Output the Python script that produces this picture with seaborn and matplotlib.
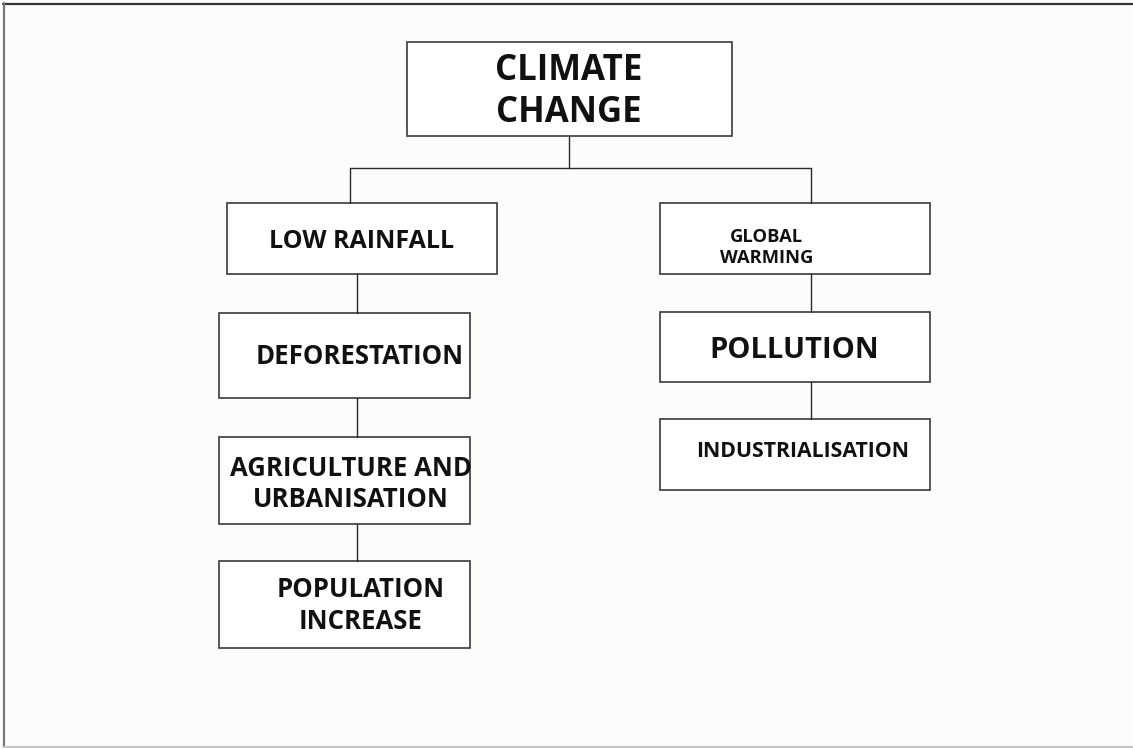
import matplotlib
matplotlib.use("Agg")
import matplotlib.pyplot as plt
from matplotlib.patches import Rectangle
import seaborn as sns

sns.set_theme(style="white")
plt.rcParams['font.family'] = ['Open Sans', 'DejaVu Sans']

# node labels
labels = ["CLIMATE\nCHANGE", "LOW RAINFALL", "GLOBAL\nWARMING", "DEFORESTATION",
          "AGRICULTURE AND\nURBANISATION", "POPULATION\nINCREASE", "POLLUTION",
          "INDUSTRIALISATION"]
# box geometry in pixel units (left, top, right, bottom)
box_left = [407, 227, 660, 219, 219, 219, 660, 660]
box_top = [42, 203, 203, 313, 437, 561, 312, 419]
box_right = [732, 497, 930, 470, 470, 470, 930, 930]
box_bottom = [136, 274, 274, 398, 524, 648, 382, 490]
# text anchor and size
text_x = [569, 361.5, 766.5, 359.5, 351, 361, 794.5, 802.5]
text_y = [92, 241.5, 247.5, 356.5, 484, 605.5, 350, 451.5]
text_size = [25, 18, 13.2, 18.5, 18.5, 18.5, 21, 15.3]
line_spacing = [1.25, 1.2, 1.15, 1.2, 1.17, 1.2, 1.2, 1.2]

# connector segments (x0, y0, x1, y1)
seg_x0 = [569, 350, 350, 811, 357, 357, 357, 811, 811]
seg_y0 = [136, 168, 168, 168, 274, 398, 524, 274, 382]
seg_x1 = [569, 811, 350, 811, 357, 357, 357, 811, 811]
seg_y1 = [168, 168, 203, 203, 313, 437, 561, 312, 419]

W, H = 1133, 748
fig = plt.figure(figsize=(W / 100, H / 100), dpi=100)
fig.patch.set_facecolor("#fdfcfa")
ax = fig.add_axes([0, 0, 1, 1])
ax.set_xlim(0, W)
ax.set_ylim(H, 0)
ax.axis("off")
ax.set_facecolor("#fdfcfa")

# page frame
ax.plot([3, W], [3.5, 3.5], color="#333333", lw=1.6)
ax.plot([3.5, 3.5], [3, H], color="#777777", lw=1.6)
ax.plot([3, W], [746.5, 746.5], color="#c8c8c8", lw=1.6)

for x0, y0, x1, y1 in zip(seg_x0, seg_y0, seg_x1, seg_y1):
    ax.plot([x0, x1], [y0, y1], color="#2a2a2a", lw=1.0)

for i, lab in enumerate(labels):
    ax.add_patch(Rectangle((box_left[i], box_top[i]), box_right[i] - box_left[i],
                           box_bottom[i] - box_top[i], fill=True, facecolor="white",
                           edgecolor="#3a3a3a", lw=1.2))
    ax.text(text_x[i], text_y[i], lab, ha="center", va="center", fontsize=text_size[i],
            fontweight="bold", color="#111111", linespacing=line_spacing[i],
            multialignment="center")

fig.savefig("out.png", dpi=100, facecolor=fig.get_facecolor())
